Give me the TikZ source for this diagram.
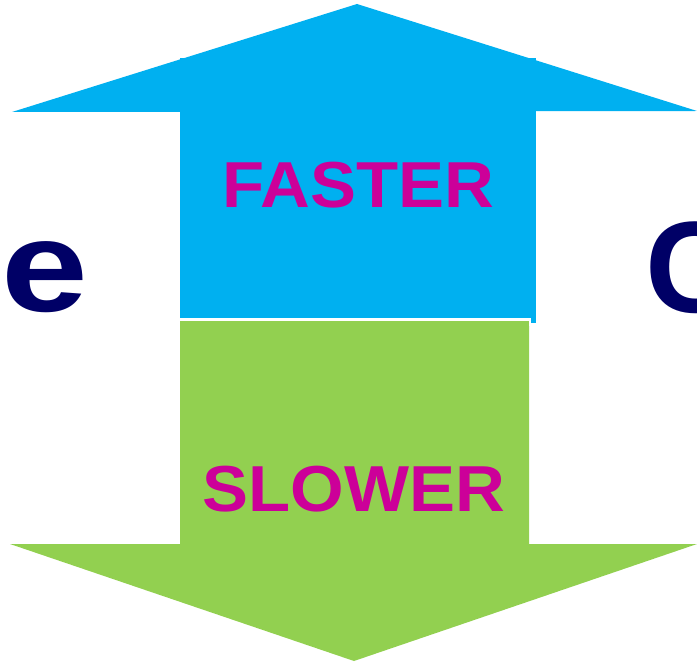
\documentclass[tikz,border=0pt]{standalone}
\usepackage{fontspec}
\setmainfont{Liberation Sans}
\definecolor{arrowblue}{HTML}{00B0F0}
\definecolor{arrowgreen}{HTML}{92D050}
\definecolor{labelmag}{HTML}{CC0099}
\definecolor{navytext}{HTML}{000066}
\tikzset{
  bigletter/.style={text=navytext, font=\bfseries\fontsize{130}{130}\selectfont, inner sep=0pt},
  arrowlabel/.style={text=labelmag, font=\bfseries\fontsize{65}{65}\selectfont, inner sep=0pt, xscale=1.06},
}
\begin{document}
\begin{tikzpicture}[x=1pt,y=-1pt]
\clip (0,0) rectangle (697,663);
\fill[white] (0,0) rectangle (697,663);
% blue up arrow
\fill[arrowblue] (180,58) rectangle (536,323);
\fill[arrowblue] (12,112) -- (357,4) -- (697,111) -- cycle;
% green down arrow
\fill[arrowgreen]
  (180,320) -- (529,320) -- (529,544) -- (697,544) -- (354,661) -- (10,544) -- (180,544) -- cycle;
\draw[white, line width=2.5pt] (178,319.5) -- (530,319.5) -- (530,326);
% labels
\node[arrowlabel, anchor=base] (faster) at (358,208) {FASTER};
\node[arrowlabel, anchor=base] (slower) at (354,511) {SLOWER};
% partial big letters
\node[bigletter, anchor=base, xscale=1.2] (e) at (44.5,312) {e};
\node[bigletter, anchor=base west] (c) at (645,313) {C};
\end{tikzpicture}
\end{document}
